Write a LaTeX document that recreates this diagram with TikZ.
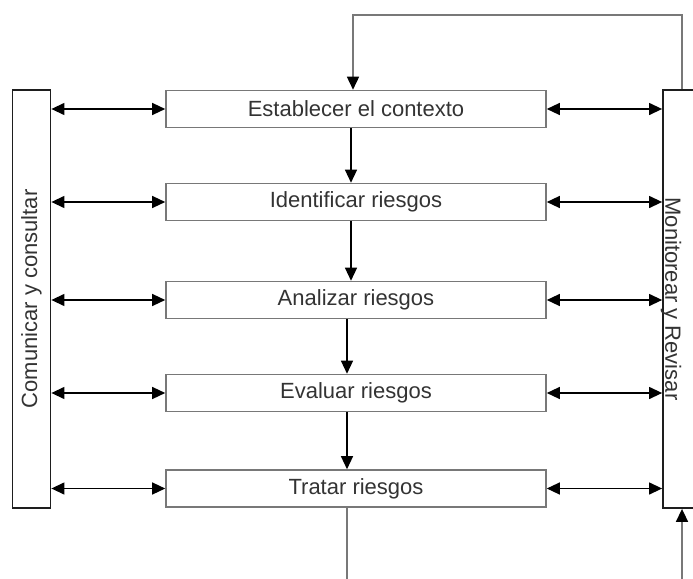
\documentclass[tikz,border=0pt]{standalone}
\usepackage{fontspec}
\setmainfont{Liberation Sans}
\usetikzlibrary{arrows.meta}
\definecolor{txt}{RGB}{51,51,51}
\definecolor{edge}{RGB}{120,120,120}
\definecolor{frame}{RGB}{30,30,30}
\begin{document}
\begin{tikzpicture}[x=1pt, y=-1pt,
  every node/.style={font=\fontsize{22}{26}\selectfont, text=txt, inner sep=0pt},
  stepbox/.style={draw=edge, line width=1.6pt, minimum width=380pt, minimum height=37pt},
  sidebox/.style={draw=frame, line width=1.8pt, minimum width=38pt, minimum height=418pt},
  tip/.style={-{Triangle[length=13pt, width=12pt, color=black]}},
  link/.style={draw=black, line width=1.3pt, tip},
  both/.style={draw=black, line width=1.3pt, {Triangle[length=13pt, width=12pt]}-{Triangle[length=13pt, width=12pt]}},
  loopline/.style={draw=edge, line width=1.6pt}
]
\useasboundingbox (0,0) rectangle (693,578);
\clip (0,0) rectangle (693,578);

% process steps
\node[stepbox] (b1) at (356,109) {Establecer el contexto};
\node[stepbox] (b2) at (356,202) {Identificar riesgos};
\node[stepbox] (b3) at (356,300) {Analizar riesgos};
\node[stepbox] (b4) at (356,393) {Evaluar riesgos};
\node[stepbox] (b5) at (356,488.5) {Tratar riesgos};

% side bars
\node[sidebox] (com) at (31.5,299) {};
\node[rotate=90] (comtxt) at (31.5,299) {Comunicar y consultar};
\node[sidebox] (mon) at (682,299) {};
\node[rotate=-90] (montxt) at (671,299) {Monitorear y Revisar};

% two-way links to the side bars
\foreach \b in {b1,b2,b3,b4,b5} {
  \draw[both] (com.east |- \b.west) -- (\b.west);
  \draw[both] (\b.east) -- (mon.west |- \b.east);
}

% flow between steps
\draw[link] ([xshift=-5pt]b1.south) -- ([xshift=-5pt]b2.north);
\draw[link] ([xshift=-5pt]b2.south) -- ([xshift=-5pt]b3.north);
\draw[link] ([xshift=-9pt]b3.south) -- ([xshift=-9pt]b4.north);
\draw[link] ([xshift=-9pt]b4.south) -- ([xshift=-9pt]b5.north);

% feedback loop from monitoring back to the context step
\coordinate (topR) at (682,15);
\coordinate (topL) at (353,15);
\draw[loopline, tip] (mon.north) -- (topR) -- (topL) -- ([xshift=-3pt]b1.north);

% outgoing line and return into monitoring
\coordinate (outB) at (347,580);
\coordinate (inB) at (682,580);
\draw[loopline] ([xshift=-9pt]b5.south) -- (outB);
\draw[loopline, tip] (inB) -- (mon.south);
\end{tikzpicture}
\end{document}
